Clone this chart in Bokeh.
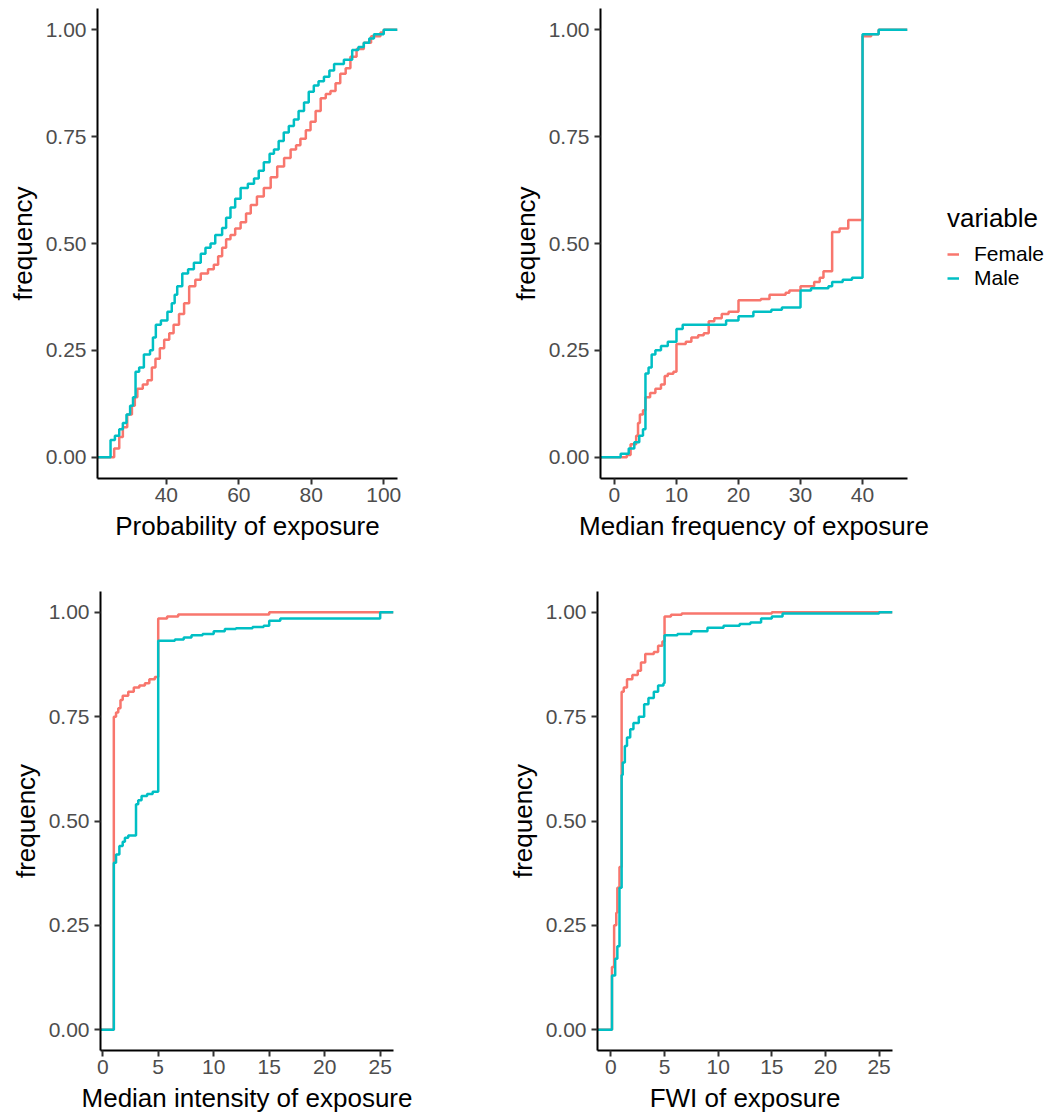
from bokeh.plotting import figure
from bokeh.layouts import row, column
from bokeh.models import Range1d, FixedTicker, NumeralTickFormatter, Legend, LegendItem
from bokeh.embed import file_html
from bokeh.resources import INLINE

FEMALE_COLOR = "#F8766D"
MALE_COLOR = "#00BFC4"
FONT = "Liberation Sans"

# ---------------- data (ECDF step points) ----------------
freq_ticks = [0, 0.25, 0.5, 0.75, 1.0]
series_names = ["Female", "Male"]

# Panel 1: Probability of exposure
prob_ticks = [40, 60, 80, 100]
prob_female_x = [25.6, 27.0, 28.0, 29.2, 30.5, 31.3, 32.0, 33.5, 34.8, 36.0,
                 37.0, 38.2, 39.4, 40.8, 42.0, 43.5, 44.9, 46.3, 48.0, 49.5,
                 51.5, 53.1, 54.3, 55.4, 56.5, 57.7, 59.0, 60.5, 62.0, 63.3,
                 65.0, 66.9, 68.8, 70.6, 72.5, 74.3, 75.8, 77.0, 78.5, 79.8,
                 81.2, 82.6, 84.0, 85.3, 86.7, 88.0, 89.5, 90.8, 92.5, 94.5,
                 96.5, 99.1, 100.0]
prob_female_y = [0.02, 0.047, 0.07, 0.10, 0.12, 0.14, 0.16, 0.17, 0.18, 0.21,
                 0.23, 0.255, 0.275, 0.29, 0.31, 0.335, 0.36, 0.40, 0.415, 0.43,
                 0.44, 0.45, 0.47, 0.49, 0.51, 0.52, 0.535, 0.55, 0.57, 0.59,
                 0.61, 0.63, 0.655, 0.68, 0.70, 0.72, 0.73, 0.745, 0.765, 0.785,
                 0.81, 0.84, 0.85, 0.857, 0.875, 0.897, 0.91, 0.937, 0.955, 0.97,
                 0.985, 0.994, 1.0]
prob_male_x = [24.6, 25.8, 27.0, 28.0, 29.0, 30.0, 30.8, 31.5, 32.5, 33.8,
               35.5, 36.3, 37.1, 38.5, 40.3, 41.5, 42.3, 43.0, 44.4, 46.0,
               47.6, 49.5, 50.8, 52.2, 53.5, 55.4, 56.5, 57.7, 59.0, 60.5,
               62.5, 64.2, 65.5, 66.9, 68.5, 69.7, 71.0, 72.4, 73.8, 75.2,
               76.5, 78.0, 79.3, 80.7, 82.0, 83.5, 85.0, 86.3, 89.0, 91.3,
               93.0, 94.5, 96.0, 97.3, 100.0]
prob_male_y = [0.04, 0.05, 0.065, 0.08, 0.10, 0.12, 0.14, 0.20, 0.21, 0.24,
               0.25, 0.28, 0.31, 0.32, 0.34, 0.36, 0.38, 0.40, 0.43, 0.44,
               0.455, 0.476, 0.49, 0.50, 0.52, 0.536, 0.56, 0.584, 0.605, 0.63,
               0.64, 0.652, 0.67, 0.69, 0.71, 0.72, 0.74, 0.76, 0.775, 0.79,
               0.81, 0.83, 0.855, 0.87, 0.88, 0.89, 0.905, 0.92, 0.93, 0.953,
               0.96, 0.97, 0.98, 0.99, 1.0]

# Panel 2: Median frequency of exposure
mfreq_ticks = [0, 10, 20, 30, 40]
mfreq_female_x = [2.0, 2.6, 3.5, 3.8, 4.1, 4.6, 5.0, 5.75, 6.6, 7.5,
                  8.1, 8.6, 9.5, 10.0, 11.5, 12.4, 13.5, 14.4, 15.2, 16.1,
                  17.3, 18.4, 20.0, 23.6, 25.0, 27.6, 28.2, 30.0, 32.2, 33.1,
                  33.7, 35.1, 36.3, 37.7, 40.0, 41.4, 42.6]
mfreq_female_y = [0.005, 0.03, 0.05, 0.08, 0.10, 0.11, 0.14, 0.15, 0.16, 0.17,
                  0.19, 0.195, 0.20, 0.265, 0.27, 0.28, 0.285, 0.29, 0.318, 0.325,
                  0.335, 0.34, 0.367, 0.37, 0.38, 0.385, 0.39, 0.40, 0.41, 0.42,
                  0.435, 0.527, 0.535, 0.555, 0.985, 0.99, 1.0]
mfreq_male_x = [1.0, 2.3, 3.2, 4.0, 4.6, 5.0, 5.5, 6.0, 6.6, 7.5,
                8.6, 10.0, 11.0, 18.0, 20.0, 22.4, 25.3, 27.0, 30.0, 31.7,
                34.5, 35.1, 36.8, 38.3, 40.0, 42.6]
mfreq_male_y = [0.008, 0.02, 0.035, 0.05, 0.065, 0.196, 0.21, 0.24, 0.25, 0.26,
                0.27, 0.30, 0.31, 0.32, 0.33, 0.34, 0.345, 0.35, 0.39, 0.395,
                0.40, 0.41, 0.415, 0.42, 0.99, 1.0]

# Panel 3: Median intensity of exposure
mint_ticks = [0, 5, 10, 15, 20, 25]
mint_female_x = [1.0, 1.2, 1.4, 1.6, 1.8, 2.3, 2.8, 3.3, 3.8, 4.2,
                 4.7, 5.0, 5.8, 6.8, 15.0]
mint_female_y = [0.75, 0.76, 0.77, 0.79, 0.80, 0.81, 0.82, 0.825, 0.83, 0.84,
                 0.845, 0.985, 0.99, 0.995, 1.0]
mint_male_x = [1.0, 1.2, 1.5, 1.8, 2.0, 2.3, 3.0, 3.2, 3.5, 4.0,
               4.5, 5.0, 6.5, 7.3, 8.0, 9.0, 10.0, 11.0, 12.0, 13.5,
               14.5, 15.0, 16.0, 25.0]
mint_male_y = [0.40, 0.42, 0.44, 0.45, 0.46, 0.465, 0.54, 0.55, 0.56, 0.565,
               0.57, 0.932, 0.935, 0.94, 0.945, 0.948, 0.955, 0.96, 0.962, 0.965,
               0.968, 0.98, 0.985, 1.0]

# Panel 4: FWI of exposure
fwi_ticks = [0, 5, 10, 15, 20, 25]
fwi_female_x = [0.1, 0.3, 0.5, 0.6, 0.8, 1.0, 1.2, 1.5, 2.0, 2.5,
                2.8, 3.2, 4.0, 4.4, 4.8, 5.0, 5.6, 6.6, 15.0]
fwi_female_y = [0.15, 0.25, 0.28, 0.34, 0.39, 0.81, 0.82, 0.84, 0.85, 0.86,
                0.88, 0.90, 0.905, 0.92, 0.93, 0.99, 0.994, 0.997, 1.0]
fwi_male_x = [0.1, 0.4, 0.6, 0.8, 1.0, 1.1, 1.3, 1.5, 1.8, 2.1,
              2.6, 3.1, 3.5, 4.0, 4.4, 4.9, 5.0, 6.2, 7.5, 9.0,
              10.5, 12.0, 13.0, 14.0, 15.0, 16.0, 25.0]
fwi_male_y = [0.13, 0.17, 0.20, 0.34, 0.61, 0.64, 0.68, 0.70, 0.72, 0.735,
              0.75, 0.78, 0.795, 0.81, 0.825, 0.83, 0.945, 0.948, 0.955, 0.963,
              0.968, 0.972, 0.976, 0.985, 0.99, 0.997, 1.0]


def ecdf_path(xs, ys, lo, hi):
    return [lo] + list(xs) + [hi], [0.0] + list(ys) + [ys[-1]]


def make_panel(xlim, xticks, xlabel, female, male, width, height, borders):
    bl, br, bt, bb = borders
    p = figure(width=width, height=height,
               x_range=Range1d(*xlim), y_range=Range1d(-0.05, 1.05),
               output_backend="svg", toolbar_location=None,
               min_border_left=bl, min_border_right=br,
               min_border_top=bt, min_border_bottom=bb,
               x_axis_label=xlabel, y_axis_label="frequency")
    p.outline_line_color = None
    p.grid.visible = False
    p.background_fill_color = "white"
    p.border_fill_color = "white"

    p.xaxis.ticker = FixedTicker(ticks=xticks)
    p.yaxis.ticker = FixedTicker(ticks=freq_ticks)
    p.yaxis.formatter = NumeralTickFormatter(format="0.00")
    for ax in (p.xaxis, p.yaxis):
        ax.axis_line_color = "black"
        ax.axis_line_width = 2
        ax.major_tick_line_color = "#333333"
        ax.major_tick_line_width = 2
        ax.major_tick_in = 0
        ax.major_tick_out = 6
        ax.minor_tick_line_color = None
        ax.major_label_text_font = FONT
        ax.major_label_text_font_size = "21px"
        ax.major_label_text_color = "#4D4D4D"
        ax.axis_label_text_font = FONT
        ax.axis_label_text_font_size = "26px"
        ax.axis_label_text_font_style = "normal"
        ax.axis_label_text_color = "black"
    p.xaxis.major_label_standoff = 3
    p.xaxis.axis_label_standoff = 6
    p.yaxis.major_label_standoff = 5
    p.yaxis.axis_label_standoff = 5

    fx, fy = ecdf_path(female[0], female[1], xlim[0], xlim[1])
    mx, my = ecdf_path(male[0], male[1], xlim[0], xlim[1])
    p.step(fx, fy, mode="after", line_color=FEMALE_COLOR, line_width=2.5)
    p.step(mx, my, mode="after", line_color=MALE_COLOR, line_width=2.5)
    return p


p1 = make_panel((21.0, 103.8), prob_ticks, "Probability of exposure",
                (prob_female_x, prob_female_y), (prob_male_x, prob_male_y),
                500, 560, (97, 103, 8, 82))
p2 = make_panel((-2.25, 47.25), mfreq_ticks, "Median frequency of exposure",
                (mfreq_female_x, mfreq_female_y), (mfreq_male_x, mfreq_male_y),
                440, 560, (100, 33, 8, 72))
p3 = make_panel((-0.2, 26.2), mint_ticks, "Median intensity of exposure",
                (mint_female_x, mint_female_y), (mint_male_x, mint_male_y),
                500, 557, (100, 107, 28, 67))
p4 = make_panel((-1.25, 26.25), fwi_ticks, "FWI of exposure",
                (fwi_female_x, fwi_female_y), (fwi_male_x, fwi_male_y),
                557, 557, (97, 165, 31, 65))

# legend in its own small figure to the right of panel 2; its key renderers
# hold points outside the visible range so only the legend keys show
lg = figure(width=116, height=560, x_range=Range1d(0, 1), y_range=Range1d(0, 1),
            x_axis_type=None, y_axis_type=None, output_backend="svg",
            toolbar_location=None, min_border=0)
lg.outline_line_color = None
lg.grid.visible = False
lr_f = lg.line(x=[5, 6], y=[5, 5], line_color=FEMALE_COLOR, line_width=2.5)
lr_m = lg.line(x=[5, 6], y=[5, 5], line_color=MALE_COLOR, line_width=2.5)
legend = Legend(items=[LegendItem(label=series_names[0], renderers=[lr_f]),
                       LegendItem(label=series_names[1], renderers=[lr_m])],
                title="variable", location=(7, 188), margin=0, padding=0,
                spacing=0, glyph_width=12, glyph_height=20, label_height=20,
                label_standoff=15, title_standoff=8,
                border_line_color=None, background_fill_alpha=0,
                label_text_font=FONT, label_text_font_size="21px",
                label_text_line_height=0.85,
                label_text_color="black",
                title_text_font=FONT, title_text_font_size="26px",
                title_text_font_style="normal", title_text_color="black")
lg.add_layout(legend, "center")

layout = column(row(p1, p2, lg), row(p3, p4))

with open("out.html", "w") as f:
    f.write(file_html(layout, INLINE))
